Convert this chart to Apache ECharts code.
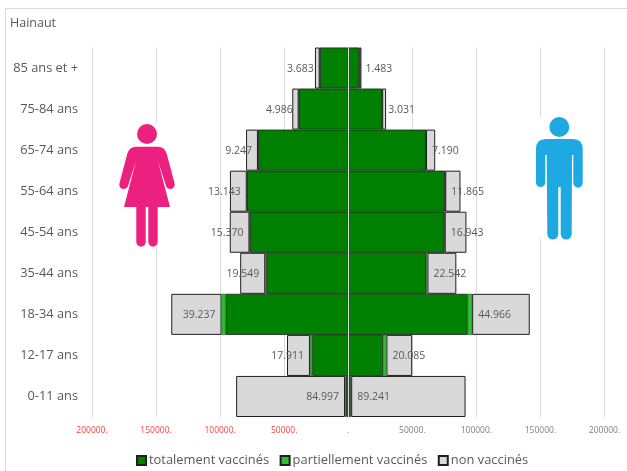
<!DOCTYPE html>
<html>
<head>
<meta charset="utf-8">
<style>
  html, body { margin: 0; padding: 0; background: #fff; }
  #chart { width: 627px; height: 471px; }
</style>
<script src="https://cdn.jsdelivr.net/npm/echarts@6/dist/echarts.min.js"></script>
</head>
<body>
<div id="chart"></div>
<script>
const categories = ['0-11 ans', '12-17 ans', '18-34 ans', '35-44 ans', '45-54 ans', '55-64 ans', '65-74 ans', '75-84 ans', '85 ans et +']

// femmes
const femmesTotal = [1700, 28100, 95800, 64000, 76800, 78900, 70300, 38500, 22100]
const femmesPartiel = [800, 1800, 3100, 800, 300, 300, 200, 200, 200]
const femmesNon = [84997, 17911, 39237, 19549, 15370, 13143, 9247, 4986, 3683]

// hommes
const hommesTotal = [1800, 27300, 93200, 61000, 75000, 75500, 60500, 26300, 8600]
const hommesPartiel = [500, 2500, 3500, 800, 300, 200, 200, 200, 200]
const hommesNon = [89241, 20085, 44966, 22542, 16943, 11865, 7190, 3031, 1483]

const colors = { total: '#008000', partiel: '#2ec42e', non: '#d9d9d9' }
const textColor = '#595959'
const fontFamily = '"Open Sans", sans-serif'

const neg = arr => arr.map(v => -v)
const dots = v => String(Math.abs(v)).replace(/\B(?=(\d{3})+$)/g, '.')

function barSerie (name, data, color, label, borderWidth = 1, z = 2) {
  return {
    name,
    type: 'bar',
    stack: 'pop',
    data,
    z,
    barCategoryGap: 0,
    itemStyle: { color, borderColor: '#1f1f1f', borderWidth },
    label: label || { show: false },
    animation: false
  }
}

const valueLabel = position => ({
  show: true,
  position,
  distance: 6,
  offset: [0, 1],
  color: textColor,
  fontFamily,
  fontSize: 10.5,
  formatter: p => dots(p.value)
})

const woman = 'M136 146.7 L158 146.7 Q164 146.7 166.5 153 L174.5 183 A4.4 4.4 0 0 1 166 186 L158 161 L170 207 L157.7 207 L157.7 242 A4.7 4.7 0 0 1 148.3 242 L148.3 207 L145.7 207 L145.7 242 A4.7 4.7 0 0 1 136.3 242 L136.3 207 L124 207 L136 161 L128 186 A4.4 4.4 0 0 1 119.5 183 L127.5 153 Q130 146.7 136 146.7 Z'
const man = 'M546 139 L573 139 Q582.7 139 582.7 149 L582.7 183 A4.7 4.7 0 0 1 573.3 183 L573.3 155 L572 155 L571.7 234 A5.5 5.5 0 0 1 560.7 234 L560.7 187 L558.3 187 L558.3 234 A5.5 5.5 0 0 1 547.3 234 L546.7 155 L545.3 155 L545.3 183 A4.7 4.7 0 0 1 536 183 L536 149 Q536 139 546 139 Z'
echarts.graphic.registerShape('woman', echarts.graphic.extendPath(woman))
echarts.graphic.registerShape('man', echarts.graphic.extendPath(man))

const chart = echarts.init(document.getElementById('chart'))

const series = [
  barSerie('totalement vaccinés', neg(femmesTotal), colors.total, null, 0.8),
  barSerie('partiellement vaccinés', neg(femmesPartiel), colors.partiel, null, 0.4, 3),
  barSerie('non vaccinés', neg(femmesNon), colors.non, valueLabel('insideRight')),
  barSerie('totalement vaccinés', hommesTotal, colors.total, null, 0.8),
  barSerie('partiellement vaccinés', hommesPartiel, colors.partiel, null, 0.4, 3),
  barSerie('non vaccinés', hommesNon, colors.non, valueLabel('insideLeft'))
]
// ligne centrale au dessus des barres
series[0].markLine = {
  silent: true,
  symbol: 'none',
  z: 5,
  label: { show: false },
  lineStyle: { color: '#dcdcdc', width: 1, type: 'solid' },
  data: [{ xAxis: 0 }],
  animation: false
}

chart.setOption({
  animation: false,
  title: {
    text: 'Hainaut',
    left: 5,
    top: 12,
    textStyle: { color: textColor, fontFamily, fontSize: 12.5, fontWeight: 'normal' }
  },
  legend: {
    left: 131,
    top: 449,
    icon: 'rect',
    itemWidth: 9,
    itemHeight: 9,
    itemGap: 10.5,
    data: ['totalement vaccinés', 'partiellement vaccinés', 'non vaccinés'],
    textStyle: { color: textColor, fontFamily, fontSize: 12.9, padding: [0, 0, 0, -2] }
  },
  grid: { left: 92, right: 22.5, top: 47.5, bottom: 54 },
  xAxis: {
    type: 'value',
    min: -200000,
    max: 200000,
    interval: 50000,
    axisLine: { show: false },
    axisTick: { show: false },
    splitLine: { lineStyle: { color: '#d9d9d9', width: 1 } },
    axisLabel: {
      margin: 9,
      fontFamily,
      fontSize: 8.5,
      color: v => (v < 0 ? '#ff4040' : '#808080'),
      formatter: v => (v === 0 ? '.' : Math.abs(v) + '.')
    }
  },
  yAxis: {
    type: 'category',
    data: categories,
    axisLine: { show: false, onZero: false },
    axisTick: { show: false },
    axisLabel: { margin: 14, color: textColor, fontFamily, fontSize: 12.8, padding: [3, 0, 0, 0] }
  },
  graphic: [
    { type: 'rect', z: 10, shape: { x: 5.5, y: 8.5, width: 640, height: 480 }, style: { fill: 'none', stroke: '#d9d9d9', lineWidth: 1 }, silent: true },
    { type: 'rect', z: 10, shape: { x: 118, y: 123, width: 58, height: 124 }, style: { fill: '#fff' }, silent: true },
    { type: 'circle', z: 11, shape: { cx: 147, cy: 134, r: 10 }, style: { fill: '#ec207f' }, silent: true },
    { type: 'woman', z: 11, style: { fill: '#ec207f' }, silent: true },
    { type: 'rect', z: 10, shape: { x: 535, y: 117, width: 49, height: 122 }, style: { fill: '#fff' }, silent: true },
    { type: 'circle', z: 11, shape: { cx: 559.3, cy: 127, r: 10 }, style: { fill: '#1fa9e3' }, silent: true },
    { type: 'man', z: 11, style: { fill: '#1fa9e3' }, silent: true }
  ],
  series
})
</script>
</body>
</html>
